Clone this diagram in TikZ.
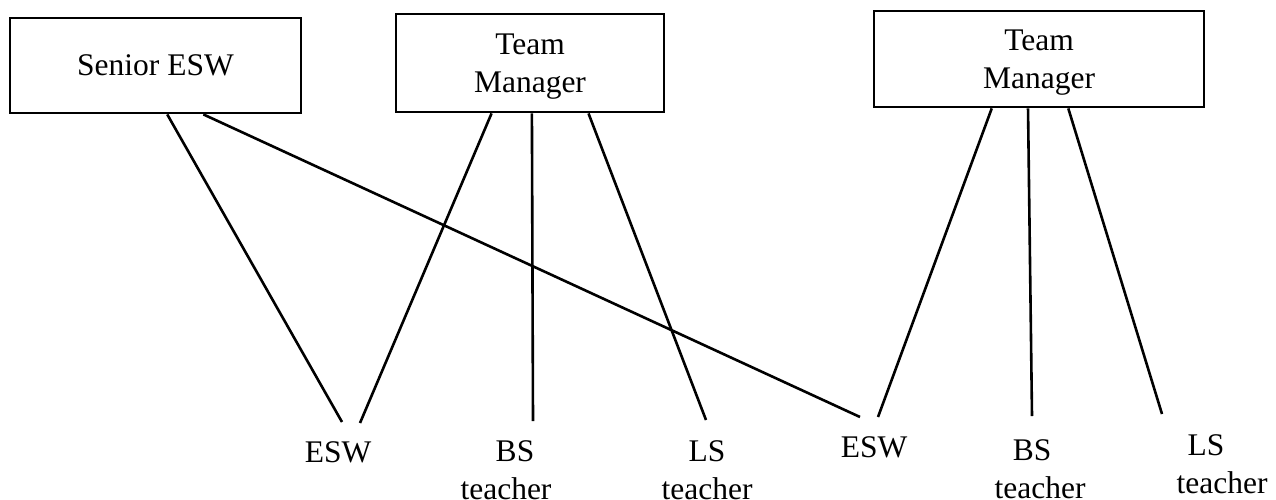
\documentclass[tikz,border=0pt]{standalone}
\usepackage{fontspec}
\setmainfont{Liberation Serif}
\usetikzlibrary{calc}
\newcommand\orgfont{\fontsize{31.5}{38}\selectfont}
\tikzset{
  unitbox/.style={draw, line width=2.8pt, inner sep=0pt, align=center, font=\orgfont},
  rolelabel/.style={inner sep=0pt, anchor=north, align=center, font=\orgfont},
  link/.style={line width=2.6pt}
}
\begin{document}
\begin{tikzpicture}[x=1pt, y=-1pt]
  \useasboundingbox (0,0) rectangle (1276,499);
  \fill[white] (0,0) rectangle (1276,499);
  \clip (0,0) rectangle (1276,499);

  % managers
  \node[unitbox, minimum width=291pt, minimum height=95pt] (sesw) at (155.5,65.5) {Senior ESW};
  \node[unitbox, minimum width=268pt, minimum height=98pt, text depth=0pt] (tm1) at (530,63) {Team\\Manager};
  \node[unitbox, minimum width=330pt, minimum height=96pt, text depth=0pt] (tm2) at (1039,59) {Team\\Manager};

  % staff
  \node[rolelabel] (esw1) at (338,441) {ESW};
  \node[rolelabel] (bs1) at (506,440) {\hspace*{18pt}BS\\teacher};
  \node[rolelabel] (ls1) at (707,440) {LS\\teacher};
  \node[rolelabel] (esw2) at (874,436) {ESW};
  \node[rolelabel] (bs2) at (1040,439) {BS\hspace*{16pt}\\teacher};
  \node[rolelabel] (ls2) at (1222,434) {LS\hspace*{32pt}\\teacher};

  % line ends just above the staff labels
  \coordinate (esw1-a) at (342,422);
  \coordinate (esw1-b) at (360,423);
  \coordinate (bs1-a) at (533,421);
  \coordinate (ls1-a) at (706,420);
  \coordinate (esw2-a) at (860,417);
  \coordinate (esw2-b) at (878,417);
  \coordinate (bs2-a) at (1032,416);
  \coordinate (ls2-a) at (1162,414);

  % reporting lines
  \draw[link] ($(sesw.south west)!0.54!(sesw.south east)$) -- (esw1-a);
  \draw[link] ($(sesw.south west)!0.663!(sesw.south east)$) -- (esw2-a);
  \draw[link] ($(tm1.south west)!0.358!(tm1.south east)$) -- (esw1-b);
  \draw[link] ($(tm1.south west)!0.507!(tm1.south east)$) -- (bs1-a);
  \draw[link] ($(tm1.south west)!0.716!(tm1.south east)$) -- (ls1-a);
  \draw[link] ($(tm2.south west)!0.358!(tm2.south east)$) -- (esw2-b);
  \draw[link] ($(tm2.south west)!0.467!(tm2.south east)$) -- (bs2-a);
  \draw[link] ($(tm2.south west)!0.588!(tm2.south east)$) -- (ls2-a);
\end{tikzpicture}
\end{document}
